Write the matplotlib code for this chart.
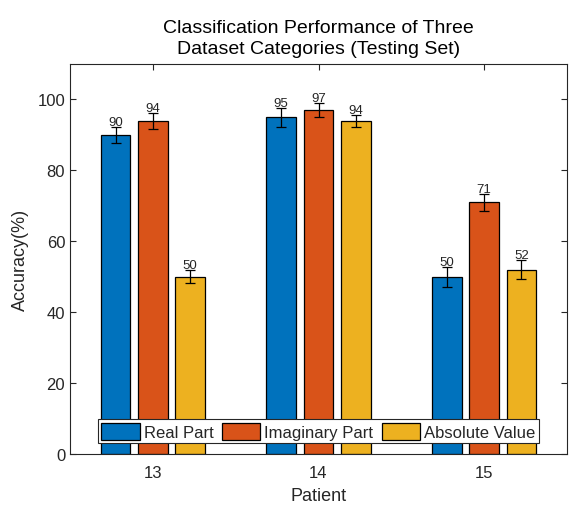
import numpy as np
import matplotlib
matplotlib.use('Agg')
import matplotlib.pyplot as plt

# values
patients = ['13', '14', '15']
series_names = ['Real Part', 'Imaginary Part', 'Absolute Value']
real_part = [90, 95, 50]
imag_part = [94, 97, 71]
abs_value = [50, 94, 52]
real_err = [2.2, 2.7, 2.8]
imag_err = [2.2, 2.0, 2.4]
abs_err = [1.8, 1.7, 2.7]

colors = ['#0072BD', '#D95319', '#EDB120']
text_col = '#262626'

plt.rcParams['font.family'] = ['Liberation Sans', 'DejaVu Sans']

fig = plt.figure(figsize=(5.7, 5.06), dpi=100)
ax = fig.add_axes([70 / 570, 51 / 506, 497 / 570, 390 / 506])

x = np.arange(13, 16)
width = 0.18
offsets = [-0.225, 0.0, 0.225]
values = [real_part, imag_part, abs_value]
errors = [real_err, imag_err, abs_err]

for name, vals, errs, off, col in zip(series_names, values, errors, offsets, colors):
    ax.bar(x + off, vals, width, color=col, edgecolor='black', linewidth=0.9,
           label=name, zorder=2)
    ax.errorbar(x + off, vals, yerr=errs, fmt='none', ecolor='black',
                elinewidth=0.9, capsize=3.5, capthick=0.9, zorder=3)
    for xi, v, e in zip(x + off, vals, errs):
        ax.text(xi, v + e - 0.3, str(v), ha='center', va='bottom',
                fontsize=9.5, color=text_col, zorder=4)

ax.set_xlim(12.5, 15.5)
ax.set_ylim(0, 110)
ax.set_xticks(x)
ax.set_xticklabels(patients)
ax.set_yticks(np.arange(0, 101, 20))
ax.tick_params(direction='in', length=4, top=True, right=True,
               labelsize=12, colors=text_col, labelcolor=text_col, width=0.8)
ax.tick_params(axis='x', pad=8)
for sp in ax.spines.values():
    sp.set_color(text_col)
    sp.set_linewidth(0.8)

ax.set_xlabel('Patient', fontsize=13, color=text_col, labelpad=5)
ax.set_ylabel('Accuracy(%)', fontsize=13, color=text_col, labelpad=6)
ax.set_title('Classification Performance of Three\nDataset Categories (Testing Set)',
             fontsize=14, color='black', pad=8, linespacing=1.3)

leg = ax.legend(loc='lower center', bbox_to_anchor=(0.5, 0.028), ncol=3,
                fontsize=12, frameon=True, fancybox=False, framealpha=1,
                edgecolor=text_col, handlelength=2.3, handleheight=1.2,
                handletextpad=0.25, columnspacing=0.5, borderpad=0.2,
                borderaxespad=0.0)
leg.get_frame().set_linewidth(0.8)
for t in leg.get_texts():
    t.set_color(text_col)

fig.savefig('out.png', dpi=100, facecolor='white')
